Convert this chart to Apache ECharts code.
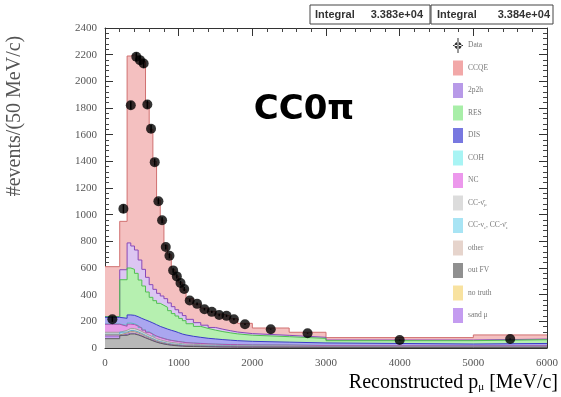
<!DOCTYPE html>
<html>
<head>
<meta charset="utf-8">
<script src="https://cdn.jsdelivr.net/npm/echarts@6/dist/echarts.min.js"></script>
<style>
html,body{margin:0;padding:0;background:#fff;}
#c{width:561px;height:397px;}
</style>
</head>
<body>
<div id="c"></div>
<script>
// ---- data ----
const binEdges = [0,200,300,350,400,450,500,550,600,650,700,750,800,850,900,950,1000,1050,1100,1200,1300,1400,1500,1600,1700,1800,2000,2500,3000,5000,6000];
const outFV    = [70,95,105,105,98,88,76,65,54,44,36,30,25,21,18,16,14,12,11,10,9,8,7,7,6,6,5,4,4,4];
const sandMu   = [20,8,6,5,4,4,3,3,3,2,2,2,2,2,2,2,2,2,2,2,2,2,2,2,2,2,2,2,2,2];
const other    = [8,10,12,12,11,10,9,8,7,6,5,5,4,4,4,3,3,3,3,3,2,2,2,2,2,2,2,2,2,2];
const ccNue    = [5,6,8,8,8,7,7,6,6,5,5,5,4,4,4,4,4,3,3,3,3,3,3,3,3,3,3,2,2,2];
const ccNumubar= [15,14,16,16,16,15,15,14,14,13,13,12,12,11,11,10,10,9,8,7,6,6,5,5,5,4,4,3,3,3];
const nc       = [60,30,32,30,28,26,24,22,20,19,18,17,16,15,14,13,12,11,10,9,9,8,8,7,7,6,6,5,4,5];
const coh      = [2,5,8,6,4,3,2,2,2,1,1,1,1,1,1,1,1,1,1,1,1,1,1,1,1,1,1,1,1,1];
const dis      = [50,55,61,63,66,69,75,80,82,85,82,80,78,75,71,66,59,57,50,45,41,38,35,32,29,26,21,19,12,15];
const res      = [5,289,352,345,325,288,254,220,192,180,173,168,163,147,133,125,117,107,94,82,74,66,60,55,51,46,41,34,25,28];
const twoP2h   = [0,75,188,175,175,150,125,110,95,85,75,70,65,58,52,47,42,38,33,28,24,20,18,16,14,12,10,8,5,5];
const ccqe     = [375,363,1402,1435,1455,1510,1560,1310,1165,960,700,570,400,362,280,253,226,197,155,140,129,121,114,110,100,77,55,38,18,31];

const dataX   = [100,250,350,425,475,525,575,625,675,725,775,825,875,925,975,1025,1075,1150,1250,1350,1450,1550,1650,1750,1900,2250,2750,4000,5500];
const dataY   = [216,1044,1821,2184,2159,2134,1826,1645,1394,1101,958,758,692,582,537,487,442,356,331,291,271,248,241,216,178,141,111,60,68];
const dataErr = [20,32,30,33,33,33,30,29,26,23,22,19,19,17,16,16,15,10,10,9,9,9,9,8,6,3,3,3,4];

const xTicks = [0,1000,2000,3000,4000,5000,6000];
const yTicks = [0,200,400,600,800,1000,1200,1400,1600,1800,2000,2200,2400];
const integrals = ['3.383e+04','3.384e+04'];

// ---- build ----
const layers = [
  {name:'out FV', vals: outFV, fill:'#b8b8b8', line:'#606060'},
  {name:'sand mu', vals: sandMu, fill:'#c8a0f0', line:'#9060c0'},
  {name:'other', vals: other, fill:'#e6d2ca', line:'#b09080'},
  {name:'CC-nue', vals: ccNue, fill:'#a8e0f2', line:'#60a8c8'},
  {name:'CC-numubar', vals: ccNumubar, fill:'#d6d6d6', line:'#a0a0a0'},
  {name:'NC', vals: nc, fill:'#e89ce8', line:'#b050b0'},
  {name:'COH', vals: coh, fill:'#a0f2f2', line:'#50c0c0'},
  {name:'DIS', vals: dis, fill:'#aaa6f0', line:'#3c3cc8'},
  {name:'RES', vals: res, fill:'#b6f0b0', line:'#50c050'},
  {name:'2p2h', vals: twoP2h, fill:'#dcc6f2', line:'#8848b8'},
  {name:'CCQE', vals: ccqe, fill:'#f4c0c0', line:'#d07070'}
];
const legendColor = {
  'CCQE':'#f2a8a8','2p2h':'#b89ae8','RES':'#a8eea8','DIS':'#7878e0','COH':'#a8f4f4','NC':'#ec98ec',
  'CC-numubar':'#dcdcdc','CC-nue':'#a8e4f4','other':'#e6d4cc','out FV':'#909090','no truth':'#f8e2a0','sand mu':'#c49cf0'
};
// cumulative tops
let running = binEdges.slice(0,-1).map(()=>0);
layers.forEach(l => { running = running.map((r,i)=>r + l.vals[i]); l.cum = running.slice(); });
function stepData(vals){
  const d = vals.map((v,i)=>[binEdges[i], v]);
  d.push([binEdges[binEdges.length-1], vals[vals.length-1]]);
  return d;
}
const series = [];
layers.slice().reverse().forEach(l => series.push({
  name: l.name, type:'line', step:'end', symbol:'none', silent:true,
  data: stepData(l.cum),
  lineStyle:{color:l.line, width:1},
  itemStyle:{color: legendColor[l.name]},
  areaStyle:{color:l.fill, opacity:1, origin:'start'},
  z: 2
}));
series.push({name:'no truth', type:'line', data:[], itemStyle:{color:legendColor['no truth']}});
series.push({
  name:'Data', type:'scatter', symbol:'circle', symbolSize:10,
  itemStyle:{color:'#000'}, z:6,
  data: dataX.map((x,i)=>[x, dataY[i]])
});
series.push({
  name:'DataErr', type:'custom', z:5, silent:true,
  data: dataX.map((x,i)=>[x, dataY[i], dataErr[i]]),
  renderItem: function(params, api){
    const x = api.value(0), y = api.value(1), e = api.value(2);
    const p1 = api.coord([x, y-e]), p2 = api.coord([x, y+e]);
    return {type:'line', shape:{x1:p1[0],y1:p1[1],x2:p2[0],y2:p2[1]}, style:{stroke:'#000', lineWidth:1.5}};
  }
});

const legendNames = {
  'CCQE':'{n|CCQE}','2p2h':'{n|2p2h}','RES':'{n|RES}','DIS':'{n|DIS}','COH':'{n|COH}','NC':'{n|NC}',
  'CC-numubar':'{n|CC-\u03BD\u0304}{s|\u03BC}','CC-nue':'{n|CC-\u03BD}{s|e}{n|, CC-\u03BD\u0304}{s|e}',
  'other':'{n|other}','out FV':'{n|out FV}','no truth':'{n|no truth}','sand mu':'{n|sand \u03BC}','Data':'{n|Data}'
};
const richLeg = {
  n:{fontFamily:'Liberation Serif', fontSize:7.5, color:'#777'},
  s:{fontFamily:'Liberation Serif', fontSize:5, color:'#777', verticalAlign:'bottom', padding:[4,0,0,0]}
};
const plainNum = v => String(v);
const axisCommon = (pos, showLabel) => ({
  position: pos,
  axisLine:{show:true, onZero:false, lineStyle:{color:'#333', width:1}},
  axisTick:{show:true, inside:true, length:8, lineStyle:{color:'#333'}},
  minorTick:{show:true, splitNumber:5, length:4, lineStyle:{color:'#444'}},
  splitLine:{show:false},
  axisLabel:{show:showLabel}
});

const option = {
  animation:false,
  backgroundColor:'#fff',
  grid:{left:105, right:3, top:28, bottom:49, containLabel:false},
  xAxis:[
    Object.assign({type:'value', min:xTicks[0], max:xTicks[xTicks.length-1], interval:xTicks[1]-xTicks[0]}, axisCommon('bottom', true), {axisLabel:{formatter:plainNum, fontFamily:'Liberation Serif', fontSize:11, color:'#555', margin:10}}),
    Object.assign({type:'value', min:xTicks[0], max:xTicks[xTicks.length-1], interval:xTicks[1]-xTicks[0]}, axisCommon('top', false))
  ],
  yAxis:[
    Object.assign({type:'value', min:yTicks[0], max:yTicks[yTicks.length-1], interval:yTicks[1]-yTicks[0]}, axisCommon('left', true), {axisLabel:{formatter:plainNum, fontFamily:'Liberation Serif', fontSize:11, color:'#555', margin:8}}),
    Object.assign({type:'value', min:yTicks[0], max:yTicks[yTicks.length-1], interval:yTicks[1]-yTicks[0]}, axisCommon('right', false))
  ],
  legend:[
    {
      orient:'vertical', left:453, top:38, padding:0, itemWidth:10, itemHeight:15, itemGap:7.5,
      data:[{name:'Data', icon:'path://M4.5,0h1v15h-1z M0,7h10v1H0z M5,4a3.5,3.5 0 1,0 0.01,0z'}],
      formatter: n => legendNames[n], textStyle:{rich:richLeg}, selectedMode:false
    },
    {
      orient:'vertical', left:453, top:60.5, padding:0, itemWidth:10, itemHeight:15, itemGap:7.5, icon:'rect',
      data:['CCQE','2p2h','RES','DIS','COH','NC','CC-numubar','CC-nue','other','out FV','no truth','sand mu'],
      formatter: n => legendNames[n], textStyle:{rich:richLeg}, selectedMode:false
    }
  ],
  graphic:[
    {type:'rect', shape:{x:310, y:5, width:120, height:19}, style:{fill:'#fff', stroke:'#444', lineWidth:1}, z:10},
    {type:'rect', shape:{x:431, y:5, width:122, height:19}, style:{fill:'#fff', stroke:'#444', lineWidth:1}, z:10},
    {type:'text', x:315, y:14.5, z:11, style:{text:'Integral', font:'bold 11px "Liberation Sans"', fill:'#333', textVerticalAlign:'middle'}},
    {type:'text', x:423, y:14.5, z:11, style:{text:integrals[0], font:'bold 11px "Liberation Sans"', fill:'#333', textAlign:'right', textVerticalAlign:'middle'}},
    {type:'text', x:437, y:14.5, z:11, style:{text:'Integral', font:'bold 11px "Liberation Sans"', fill:'#333', textVerticalAlign:'middle'}},
    {type:'text', x:550, y:14.5, z:11, style:{text:integrals[1], font:'bold 11px "Liberation Sans"', fill:'#333', textAlign:'right', textVerticalAlign:'middle'}},
    {type:'text', x:304, y:110, z:11, style:{text:'CC0\u03C0', font:'bold 34px "DejaVu Sans"', fill:'#000', textAlign:'center', textVerticalAlign:'middle'}},
    {type:'text', x:558, y:383, z:11, style:{
      text:'{n|Reconstructed p}{s|\u03BC}{n| [MeV/c]}', textAlign:'right', textVerticalAlign:'middle',
      rich:{n:{fontFamily:'Liberation Serif', fontSize:20, color:'#444'}, s:{fontFamily:'Liberation Serif', fontSize:11, color:'#444', verticalAlign:'bottom', padding:[8,0,0,0]}}
    }},
    {type:'text', x:15, y:116, rotation:Math.PI/2, z:11, style:{text:'#events/(50 MeV/c)', font:'20px "Liberation Serif"', fill:'#555', textAlign:'center', textVerticalAlign:'middle'}}
  ],
  series: series
};
const chart = echarts.init(document.getElementById('c'), null, {renderer:'canvas'});
chart.setOption(option);
</script>
</body>
</html>
